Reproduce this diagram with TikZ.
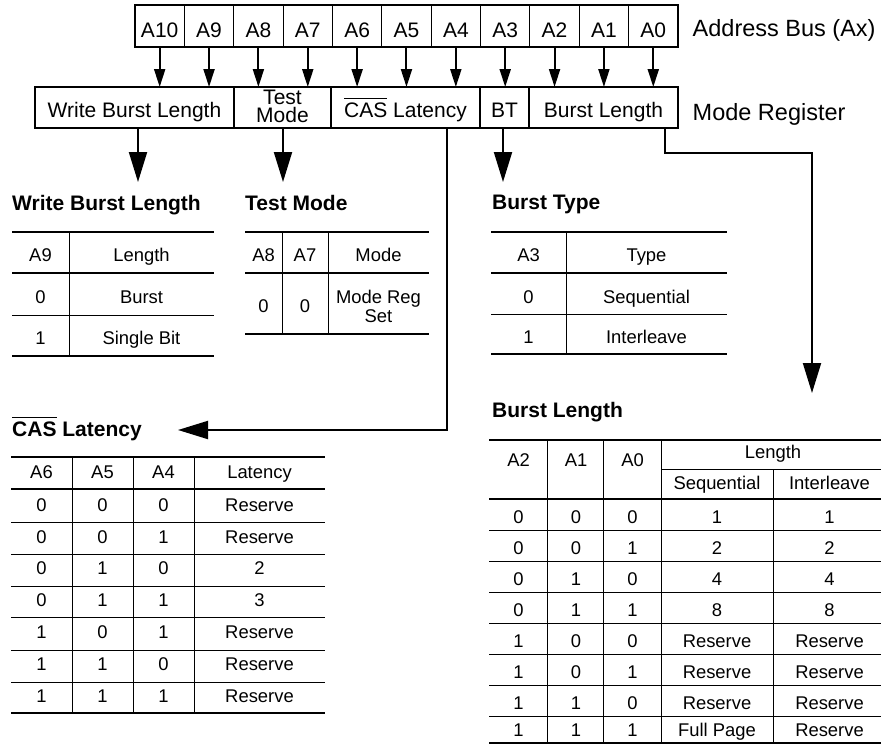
\documentclass[tikz,border=0pt]{standalone}
\usepackage{fontspec}
\setmainfont{Liberation Sans}
\usetikzlibrary{arrows.meta}
\newcommand{\ovl}[1]{\vbox{\hrule height 1.1pt\kern 3.5pt\hbox{#1}}}
\newcommand{\tcell}[4]{\node[tabtext] (#1) at (#2,#3) {#4};}
\begin{document}
\begin{tikzpicture}[x=1pt,y=-1pt,
  box/.style={draw, line width=1.1pt, minimum height=42pt, inner sep=0pt, outer sep=0pt},
  lbl/.style={anchor=base, inner sep=0pt, font=\fontsize{21}{18}\selectfont},
  side/.style={anchor=base west, inner sep=0pt, font=\fontsize{23.5}{26}\selectfont},
  head/.style={anchor=base west, inner sep=0pt, font=\fontsize{21}{24}\selectfont\bfseries},
  tabtext/.style={anchor=base, inner sep=0pt, font=\fontsize{18.4}{19}\selectfont},
  boldrule/.style={line width=2pt},
  finerule/.style={line width=1pt},
  smallarr/.style={line width=2pt, -{Triangle[length=18pt,width=11pt]}},
  bigarr/.style={line width=2pt, miter limit=10, -{Triangle[length=30pt,width=18pt]}},
]
\fill[white] (0,0) rectangle (881,744);
\useasboundingbox (0,0) rectangle (881,744);

% ---------- address bus ----------
\foreach \k/\t in {0/10,1/9,2/8,3/7,4/6,5/5,6/4,7/3,8/2,9/1,10/0}{
  \node[box, minimum width=49.36pt] (a\t) at ({135+49.36*(\k+0.5)},26) {};
  \node[lbl] (at\t) at ({135+49.36*(\k+0.5)},37) {A\t};
}
\node[side] (busname) at (692.5,36) {Address Bus (Ax)};

% ---------- mode register ----------
\node[box, minimum width=199pt, minimum height=41pt] (wbl) at (134.5,107.5) {};
\node[box, minimum width=97pt, minimum height=41pt] (tm) at (282.5,107.5) {};
\node[box, minimum width=149pt, minimum height=41pt] (cas) at (405.5,107.5) {};
\node[box, minimum width=49pt, minimum height=41pt] (bt) at (504.5,107.5) {};
\node[box, minimum width=149pt, minimum height=41pt] (bl) at (603.5,107.5) {};
\node[lbl] (wblt) at (134.5,117) {Write Burst Length};
\node[lbl, align=center, anchor=base] (tmt) at (282.5,122) {Test\\Mode};
\node[lbl] (cast) at (405.5,117) {\ovl{CAS} Latency};
\node[lbl] (btt) at (504.5,117) {BT};
\node[lbl] (blt) at (603.5,117) {Burst Length};
\node[side] (regname) at (692.5,120) {Mode Register};

% ---------- bus -> register arrows ----------
\foreach \t/\f in {10/wbl,9/wbl,8/tm,7/tm,6/cas,5/cas,4/cas,3/bt,2/bl,1/bl,0/bl}{
  \draw[smallarr] (a\t.south) -- (a\t.south |- \f.north);
}

% ---------- register -> tables arrows ----------
\coordinate (wbltip) at (138,182);
\coordinate (tmtip) at (283,182);
\coordinate (bttip) at (503,182);
\coordinate (casbend) at (447,430);
\coordinate (castip) at (178,430);
\coordinate (blbend1) at (665,153);
\coordinate (blbend2) at (812,153);
\coordinate (bltip) at (812,393);
\draw[bigarr] (wbltip |- wbl.south) -- (wbltip);
\draw[bigarr] (tmtip |- tm.south) -- (tmtip);
\draw[bigarr] (bttip |- bt.south) -- (bttip);
\draw[bigarr] (casbend |- cas.south) -- (casbend) -- (castip);
\draw[bigarr] (blbend1 |- bl.south) -- (blbend1) -- (blbend2) -- (bltip);

% ---------- headings ----------
\node[head] (h1) at (12,210) {Write Burst Length};
\node[head] (h2) at (245,210) {Test Mode};
\node[head] (h3) at (492,209) {Burst Type};
\node[head] (h4) at (492,417) {Burst Length};
\node[head] (h5) at (12,436) {\ovl{CAS} Latency};

% ---------- Write Burst Length table ----------
\draw[boldrule] (12,232) -- (214,232);
\draw[boldrule] (12,273) -- (214,273);
\draw[finerule] (12,315) -- (214,315);
\draw[boldrule] (12,356) -- (214,356);
\draw[finerule] (69,232) -- (69,356);
\tcell{w00}{40.5}{261.5}{A9}
\tcell{w01}{141.5}{261.5}{Length}
\tcell{w10}{40.5}{303}{0}
\tcell{w11}{141.5}{303}{Burst}
\tcell{w20}{40.5}{344.5}{1}
\tcell{w21}{141.5}{344.5}{Single Bit}

% ---------- Test Mode table ----------
\draw[boldrule] (245,232) -- (429,232);
\draw[boldrule] (245,273) -- (429,273);
\draw[boldrule] (245,334) -- (429,334);
\draw[finerule] (282,232) -- (282,334);
\draw[finerule] (328,232) -- (328,334);
\tcell{t00}{263.5}{261.5}{A8}
\tcell{t01}{305}{261.5}{A7}
\tcell{t02}{378.5}{261.5}{Mode}
\tcell{t10}{263.5}{312.5}{0}
\tcell{t11}{305}{312.5}{0}
\node[tabtext, align=center, font=\fontsize{18.4}{19}\selectfont] (t12) at (378.5,322) {Mode Reg\\Set};

% ---------- Burst Type table ----------
\draw[boldrule] (491,232) -- (727,232);
\draw[boldrule] (491,273) -- (727,273);
\draw[finerule] (491,314) -- (727,314);
\draw[boldrule] (491,354) -- (727,354);
\draw[finerule] (566,232) -- (566,354);
\tcell{y00}{528.5}{261.5}{A3}
\tcell{y01}{646.5}{261.5}{Type}
\tcell{y10}{528.5}{303}{0}
\tcell{y11}{646.5}{303}{Sequential}
\tcell{y20}{528.5}{343.5}{1}
\tcell{y21}{646.5}{343.5}{Interleave}

% ---------- CAS Latency table ----------
\draw[boldrule] (11,457) -- (325,457);
\draw[boldrule] (11,489) -- (325,489);
\foreach \yy in {522,554,586,617,650,682}{\draw[finerule] (11,\yy) -- (325,\yy);}
\draw[boldrule] (11,713) -- (325,713);
\foreach \xx in {72,133,194}{\draw[finerule] (\xx,457) -- (\xx,713);}
\tcell{c00}{41.5}{478.5}{A6}
\tcell{c01}{102.5}{478.5}{A5}
\tcell{c02}{163.5}{478.5}{A4}
\tcell{c03}{259.5}{478.5}{Latency}
\foreach \r/\yy/\p/\q/\s/\v in {1/511/0/0/0/Reserve,2/543/0/0/1/Reserve,3/574.5/0/1/0/2,4/606/0/1/1/3,5/638/1/0/1/Reserve,6/670/1/1/0/Reserve,7/702/1/1/1/Reserve}{
  \tcell{c\r0}{41.5}{\yy}{\p}
  \tcell{c\r1}{102.5}{\yy}{\q}
  \tcell{c\r2}{163.5}{\yy}{\s}
  \tcell{c\r3}{259.5}{\yy}{\v}
}

% ---------- Burst Length table ----------
\draw[boldrule] (489,440) -- (881,440);
\draw[finerule] (661,469) -- (881,469);
\draw[boldrule] (489,499) -- (881,499);
\foreach \yy in {530,561,592,623,654,685,716}{\draw[finerule] (489,\yy) -- (881,\yy);}
\draw[boldrule] (489,742.5) -- (881,742.5);
\foreach \xx in {547,603,661}{\draw[finerule] (\xx,440) -- (\xx,743);}
\draw[finerule] (773,469) -- (773,743);
\tcell{l00}{518.5}{466}{A2}
\tcell{l01}{576}{466}{A1}
\tcell{l02}{632.5}{466}{A0}
\tcell{l03}{773}{458}{Length}
\tcell{l04}{717}{489.5}{Sequential}
\tcell{l05}{829.5}{489.5}{Interleave}
\foreach \r/\yy/\p/\q/\s/\u/\v in {1/523/0/0/0/1/1,2/554/0/0/1/2/2,3/585/0/1/0/4/4,4/616.5/0/1/1/8/8,5/647.5/1/0/0/Reserve/Reserve,6/678.5/1/0/1/Reserve/Reserve,7/709.5/1/1/0/Reserve/Reserve,8/736.5/1/1/1/Full Page/Reserve}{
  \tcell{l\r0}{518.5}{\yy}{\p}
  \tcell{l\r1}{576}{\yy}{\q}
  \tcell{l\r2}{632.5}{\yy}{\s}
  \tcell{l\r3}{717}{\yy}{\u}
  \tcell{l\r4}{829.5}{\yy}{\v}
}
\end{tikzpicture}
\end{document}
